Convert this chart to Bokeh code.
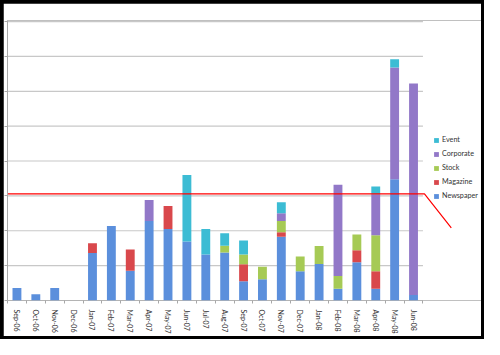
import math
from bokeh.plotting import figure
from bokeh.layouts import column
from bokeh.models import ColumnDataSource, FixedTicker, Legend, LegendItem
from bokeh.embed import file_html
from bokeh.resources import INLINE

categories = ["Sep-06", "Oct-06", "Nov-06", "Dec-06", "Jan-07", "Feb-07", "Mar-07", "Apr-07",
              "May-07", "Jun-07", "Jul-07", "Aug-07", "Sep-07", "Oct-07", "Nov-07", "Dec-07",
              "Jan-08", "Feb-08", "Mar-08", "Apr-08", "May-08", "Jun-08"]
newspaper = [0.36, 0.18, 0.36, 0, 1.36, 2.14, 0.85, 2.28, 2.05, 1.69, 1.32, 1.38, 0.55, 0.61,
             1.83, 0.84, 1.05, 0.34, 1.10, 0.34, 3.48, 0.16]
magazine = [0, 0, 0, 0, 0.28, 0, 0.61, 0, 0.66, 0, 0, 0, 0.49, 0, 0.13, 0, 0, 0, 0.34, 0.50, 0, 0]
stock = [0, 0, 0, 0, 0, 0, 0, 0, 0, 0, 0, 0.19, 0.28, 0.36, 0.32, 0.42, 0.51, 0.36, 0.45, 1.03, 0, 0]
corporate = [0, 0, 0, 0, 0, 0, 0, 0.60, 0, 0, 0, 0, 0, 0, 0.22, 0, 0, 2.62, 0, 1.18, 3.20, 6.06]
event = [0, 0, 0, 0, 0, 0, 0, 0, 0, 1.91, 0.73, 0.36, 0.40, 0, 0.32, 0, 0, 0, 0, 0.22, 0.24, 0]
series_names = ["Newspaper", "Magazine", "Stock", "Corporate", "Event"]
series_colors = ["#5b8fdc", "#d9484c", "#a6ca55", "#9278c8", "#3cbcd4"]
y_ticks = [0, 1, 2, 3, 4, 5, 6, 7, 8]
red_line_x = [-0.5, 21.58, 23.0]
red_line_y = [3.06, 3.06, 2.08]

W, H = 478, 333
xs = list(range(len(categories)))
source = ColumnDataSource(dict(x=xs, Newspaper=newspaper, Magazine=magazine, Stock=stock,
                               Corporate=corporate, Event=event))

fig = figure(width=W, height=H, output_backend="svg", toolbar_location=None,
             x_range=(-0.5, 24.6), y_range=(0, 8.03),
             min_border_left=4, min_border_right=0, min_border_top=17, min_border_bottom=31)
fig.outline_line_color = None
fig.xgrid.visible = False
fig.ygrid.visible = False

# gridlines limited to the category area
grid_y = y_ticks[1:]
fig.segment(x0=[-0.5] * len(grid_y), x1=[len(categories) - 0.5] * len(grid_y), y0=grid_y, y1=grid_y,
            line_color="#c8c8c8", line_width=1.2)
fig.segment(x0=[-0.5], x1=[len(categories) - 0.5], y0=[0], y1=[0], line_color="#a8a8a8", line_width=1.2)

renderers = fig.vbar_stack(series_names, x="x", width=0.47, source=source,
                           color=series_colors, line_color=None)

fig.line(red_line_x, red_line_y, line_color="#ff0000", line_width=1.2)

items = [LegendItem(label=n, renderers=[r]) for n, r in zip(series_names, renderers)][::-1]
legend = Legend(items=items, location=(426, 100), orientation="vertical",
                padding=0, margin=0, spacing=5, label_height=8, glyph_height=6, glyph_width=6,
                label_standoff=3, border_line_color=None, background_fill_alpha=0,
                label_text_font="Lato", label_text_font_size="7.2px", label_text_color="#333333")
fig.add_layout(legend)

xa = fig.xaxis[0]
xa.ticker = FixedTicker(ticks=xs, minor_ticks=[k - 0.5 for k in range(len(categories) + 1)])
xa.major_label_overrides = {i: c for i, c in enumerate(categories)}
xa.major_label_orientation = -math.pi / 2
xa.major_label_text_font = "Lato"
xa.major_label_text_font_size = "7px"
xa.major_label_text_color = "#333333"
xa.major_label_standoff = 3
xa.axis_line_color = None
xa.major_tick_line_color = None
xa.minor_tick_line_color = "#a8a8a8"
xa.minor_tick_in = 0
xa.minor_tick_out = 3

ya = fig.yaxis[0]
ya.ticker = FixedTicker(ticks=y_ticks, minor_ticks=[])
ya.major_label_overrides = {t: "" for t in y_ticks}
ya.major_label_standoff = 0
ya.axis_line_color = "#a8a8a8"
ya.major_tick_line_color = "#a8a8a8"
ya.major_tick_in = 0
ya.major_tick_out = 3

p = column(fig, styles={"background-color": "black", "padding": "3px"})

open("out.html", "w").write(file_html(p, INLINE))
